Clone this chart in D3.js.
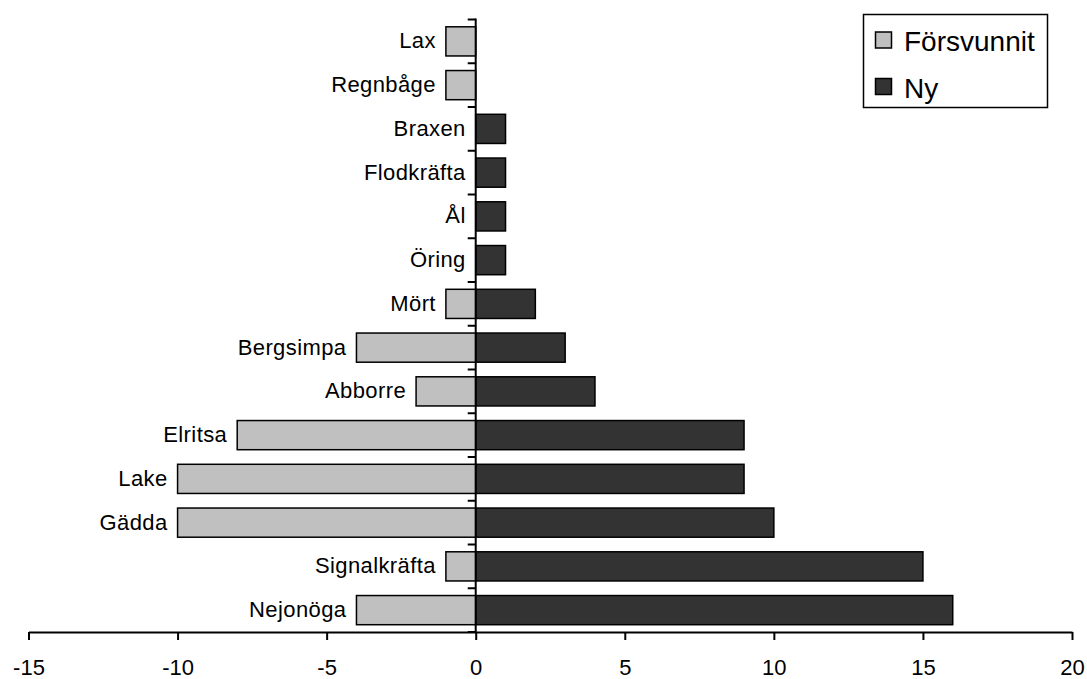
<!DOCTYPE html>
<html>
<head>
<meta charset="utf-8">
<script src="https://cdn.jsdelivr.net/npm/d3@7"></script>
<style>
  body { margin: 0; background: #fff; }
  svg { display: block; }
  text { font-family: "Liberation Sans", Arial, sans-serif; fill: #000; }
</style>
</head>
<body>
<svg id="chart" width="1087" height="679"></svg>
<script>
const categories = ["Lax", "Regnbåge", "Braxen", "Flodkräfta", "Ål", "Öring", "Mört", "Bergsimpa", "Abborre", "Elritsa", "Lake", "Gädda", "Signalkräfta", "Nejonöga"];
const lost = [-1, -1, 0, 0, 0, 0, -1, -4, -2, -8, -10, -10, -1, -4];
const newSpecies = [0, 0, 1, 1, 1, 1, 2, 3, 4, 9, 9, 10, 15, 16];
const seriesNames = ["Försvunnit", "Ny"];
const xTicks = [-15, -10, -5, 0, 5, 10, 15, 20];

const colors = ["#c0c0c0", "#333333"];
const svg = d3.select("#chart");

const x = d3.scaleLinear().domain([-15, 20]).range([28.5, 1072]);
const y = d3.scaleBand().domain(categories).range([19.5, 632]).paddingInner(1/3).paddingOuter(1/6);
const axisY = 632;
const zeroX = x(0);

// Bars
const g = svg.append("g");
g.selectAll("rect.lost").data(categories.filter((d, i) => lost[i] !== 0)).join("rect")
  .attr("class", "lost")
  .attr("x", d => x(lost[categories.indexOf(d)]))
  .attr("y", d => y(d))
  .attr("width", d => x(0) - x(lost[categories.indexOf(d)]))
  .attr("height", y.bandwidth())
  .attr("fill", colors[0]).attr("stroke", "#000").attr("stroke-width", 1.5);

g.selectAll("rect.new").data(categories.filter((d, i) => newSpecies[i] !== 0)).join("rect")
  .attr("class", "new")
  .attr("x", x(0))
  .attr("y", d => y(d))
  .attr("width", d => x(newSpecies[categories.indexOf(d)]) - x(0))
  .attr("height", y.bandwidth())
  .attr("fill", colors[1]).attr("stroke", "#000").attr("stroke-width", 1.5);

// Category labels left of bars
g.selectAll("text.cat").data(categories).join("text")
  .attr("class", "cat")
  .attr("x", (d, i) => x(Math.min(lost[i], 0)) - 10)
  .attr("y", d => y(d) + y.bandwidth() / 2)
  .attr("dy", "0.32em")
  .attr("text-anchor", "end")
  .attr("font-size", 22)
  .attr("letter-spacing", 0.4)
  .text(d => d);

// X axis
const xAxis = d3.axisBottom(x).tickValues(xTicks).tickSize(8).tickPadding(19).tickSizeOuter(0)
  .tickFormat(d => String(d));
const xg = svg.append("g").attr("transform", `translate(0,${axisY})`).call(xAxis);
xg.select(".domain").attr("stroke", "#000").attr("stroke-width", 2);
xg.selectAll(".tick line").attr("stroke", "#000").attr("stroke-width", 2);
xg.selectAll(".tick text").attr("font-size", 22).attr("font-family", "Liberation Sans, Arial, sans-serif").attr("fill", "#000");

// Y axis at zero with ticks at band boundaries
const step = y.step();
const boundaries = d3.range(categories.length + 1).map(i => y.range()[0] + i * step);
svg.append("line").attr("x1", zeroX).attr("x2", zeroX).attr("y1", boundaries[0] - 1).attr("y2", axisY)
  .attr("stroke", "#000").attr("stroke-width", 2);
svg.selectAll("line.ytick").data(boundaries).join("line")
  .attr("class", "ytick")
  .attr("x1", zeroX - 8).attr("x2", zeroX)
  .attr("y1", d => d).attr("y2", d => d)
  .attr("stroke", "#000").attr("stroke-width", 2);

// Legend
const lg = svg.append("g");
lg.append("rect").attr("x", 863.5).attr("y", 14.5).attr("width", 184).attr("height", 93)
  .attr("fill", "#fff").attr("stroke", "#000").attr("stroke-width", 1.5);
seriesNames.forEach((name, i) => {
  lg.append("rect").attr("x", 875.5).attr("y", 32 + i * 46.5).attr("width", 16).attr("height", 16)
    .attr("fill", colors[i]).attr("stroke", "#000").attr("stroke-width", 1.5);
  lg.append("text").attr("x", 904).attr("y", 51 + i * 46.5).attr("font-size", 28).text(name);
});
</script>
</body>
</html>
